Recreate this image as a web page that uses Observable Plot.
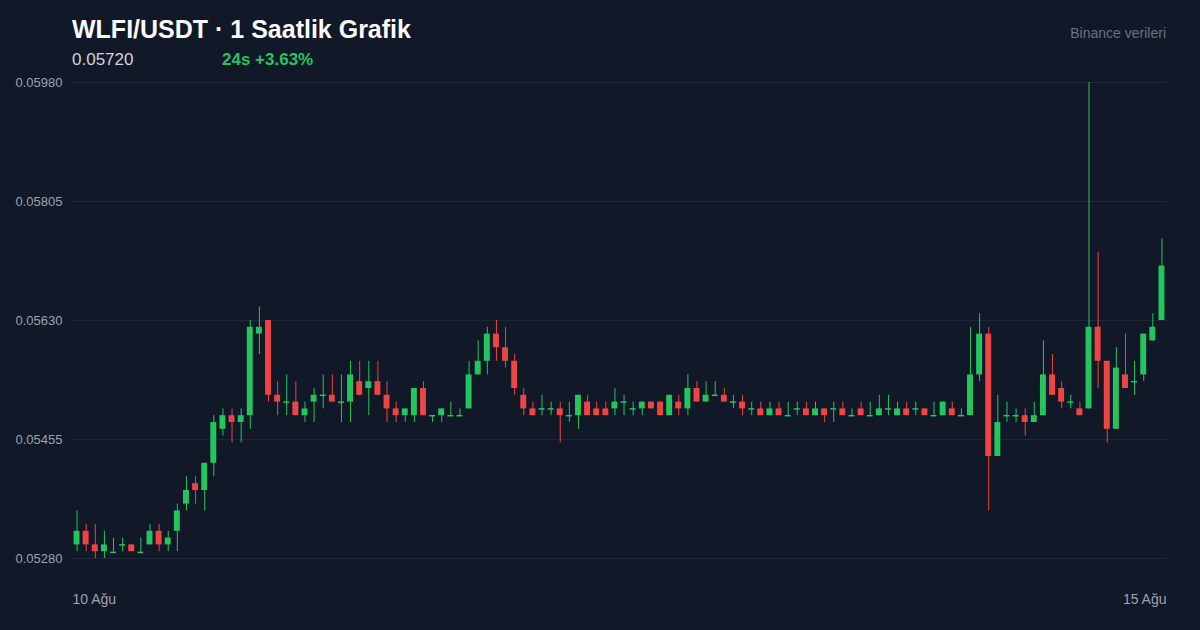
<!DOCTYPE html>
<html>
<head>
<meta charset="utf-8">
<script src="https://cdn.jsdelivr.net/npm/d3@7"></script>
<script src="https://cdn.jsdelivr.net/npm/@observablehq/plot@0.6"></script>
<style>
  html, body { margin: 0; padding: 0; background: #111827; }
  #wrap { position: relative; width: 1200px; height: 630px; overflow: hidden; font-family: "Liberation Sans", Arial, sans-serif; }
  .t { position: absolute; white-space: nowrap; line-height: 1; }
  #title { left: 72px; top: 17px; font-size: 25px; font-weight: 700; color: #f9fafb; }
  #price { left: 72px; top: 51px; font-size: 17px; color: #d1d5db; }
  #change { left: 222px; top: 51px; font-size: 17px; font-weight: 700; color: #22c55e; }
  #source { right: 34px; top: 26px; font-size: 14px; color: #6b7280; }
  #chart { position: absolute; left: 0; top: 0; }
</style>
</head>
<body>
<div id="wrap">
  <div id="chart"></div>
  <div class="t" id="title">WLFI/USDT · 1 Saatlik Grafik</div>
  <div class="t" id="price">0.05720</div>
  <div class="t" id="change">24s +3.63%</div>
  <div class="t" id="source">Binance verileri</div>
</div>
<script>
// Hourly candles, 10 Ağu → 15 Ağu (120 bars)
const open = [
0.0530,0.0532,0.0530,0.0529,0.05289,0.0530,0.0530,0.05289,0.0530,0.0532,
0.0530,0.0532,0.0536,0.0539,0.0538,0.0542,0.0547,0.0549,0.0548,0.0549,
0.0561,0.0563,0.0552,0.0551,0.0551,0.0549,0.0551,0.0552,0.0552,0.0551,
0.0551,0.0554,0.0553,0.0554,0.0552,0.0550,0.0549,0.0549,0.0553,0.0549,
0.0549,0.0549,0.0549,0.0550,0.0555,0.0557,0.0561,0.0559,0.0557,0.0552,
0.0550,0.0550,0.0550,0.0550,0.0549,0.0549,0.0551,0.0550,0.0550,0.0550,
0.0551,0.0550,0.0550,0.0551,0.0551,0.0549,0.0551,0.0550,0.0553,0.0551,
0.0552,0.0552,0.0551,0.0551,0.0550,0.0550,0.0549,0.0550,0.0549,0.0550,
0.0550,0.0549,0.0550,0.0550,0.0550,0.0549,0.0550,0.0549,0.0549,0.0550,
0.0549,0.0550,0.0550,0.0550,0.0549,0.0549,0.0550,0.0549,0.0549,0.0555,
0.0561,0.0543,0.0549,0.0549,0.0549,0.0548,0.0549,0.0555,0.0553,0.0551,
0.0550,0.0550,0.0562,0.0557,0.0547,0.0555,0.0554,0.0555,0.0560,0.0563
];
const high = [
0.0535,0.0533,0.0533,0.0532,0.0531,0.0531,0.0530,0.0531,0.0533,0.0533,
0.0532,0.0536,0.0540,0.0540,0.0542,0.0549,0.0550,0.0550,0.0550,0.0563,
0.0565,0.0563,0.0554,0.0555,0.0554,0.0551,0.0553,0.0555,0.0555,0.0555,
0.0557,0.0557,0.0557,0.0557,0.0554,0.0551,0.0550,0.0553,0.0554,0.0549,
0.0550,0.0551,0.0550,0.0557,0.0560,0.0562,0.0563,0.0562,0.0558,0.0553,
0.0551,0.0552,0.0551,0.0551,0.0551,0.0552,0.0552,0.0551,0.0551,0.0553,
0.0552,0.0551,0.0551,0.0551,0.0551,0.0552,0.0552,0.0555,0.0554,0.0554,
0.0554,0.0553,0.0552,0.0552,0.0551,0.0551,0.0551,0.0551,0.0551,0.0551,
0.0551,0.0551,0.0550,0.0551,0.0551,0.0550,0.0551,0.0551,0.0552,0.0552,
0.0551,0.0551,0.0551,0.0550,0.0551,0.0551,0.0551,0.0550,0.0562,0.0564,
0.0562,0.0552,0.0551,0.0550,0.0550,0.0551,0.0560,0.0558,0.0554,0.0552,
0.0551,0.0598,0.0573,0.0557,0.0559,0.0561,0.0557,0.0561,0.0564,0.0575
];
const low = [
0.0529,0.0529,0.0528,0.0528,0.05289,0.0529,0.0529,0.05289,0.0530,0.0529,
0.0529,0.0529,0.0535,0.0536,0.0535,0.0540,0.0546,0.0545,0.0545,0.0547,
0.0558,0.0551,0.0549,0.0549,0.0549,0.0548,0.0548,0.0550,0.0551,0.0548,
0.0548,0.0552,0.0549,0.0552,0.0548,0.0548,0.0548,0.0548,0.0549,0.0548,
0.0548,0.0549,0.0549,0.0550,0.0555,0.0555,0.0557,0.0556,0.0552,0.0549,
0.0549,0.0549,0.0549,0.0545,0.0548,0.0547,0.0549,0.0549,0.0549,0.0549,
0.0549,0.0549,0.0549,0.0550,0.0549,0.0549,0.0549,0.0549,0.0551,0.0551,
0.0552,0.0551,0.0550,0.0549,0.0549,0.0549,0.0549,0.0549,0.0549,0.0549,
0.0549,0.0549,0.0548,0.0548,0.0549,0.0549,0.0549,0.0549,0.0549,0.0549,
0.0549,0.0549,0.0549,0.0549,0.0549,0.0549,0.0549,0.0549,0.0549,0.0554,
0.0535,0.0543,0.0548,0.0548,0.0546,0.0548,0.0549,0.0552,0.0550,0.0550,
0.0549,0.0550,0.0553,0.0545,0.0547,0.0553,0.0552,0.0554,0.0560,0.0563
];
const close = [
0.0532,0.0530,0.0529,0.0530,0.05289,0.0530,0.0529,0.05289,0.0532,0.0530,
0.0531,0.0535,0.0538,0.0538,0.0542,0.0548,0.0549,0.0548,0.0549,0.0562,
0.0562,0.0552,0.0551,0.0551,0.0549,0.0550,0.0552,0.0552,0.0551,0.0551,
0.0555,0.0552,0.0554,0.0552,0.0550,0.0549,0.0550,0.0553,0.0549,0.0549,
0.0550,0.0549,0.0549,0.0555,0.0557,0.0561,0.0559,0.0557,0.0553,0.0550,
0.0549,0.0550,0.0550,0.0549,0.0549,0.0552,0.0549,0.0549,0.0549,0.0551,
0.0551,0.0550,0.0551,0.0550,0.0549,0.0552,0.0550,0.0553,0.0551,0.0552,
0.0552,0.0551,0.0551,0.0550,0.0550,0.0549,0.0550,0.0549,0.0549,0.0550,
0.0549,0.0550,0.0549,0.0550,0.0549,0.0549,0.0549,0.0549,0.0550,0.0550,
0.0550,0.0549,0.0550,0.0549,0.0549,0.0551,0.0549,0.0549,0.0555,0.0561,
0.0543,0.0548,0.0549,0.0549,0.0548,0.0549,0.0555,0.0552,0.0551,0.0551,
0.0549,0.0562,0.0557,0.0547,0.0556,0.0553,0.0554,0.0561,0.0562,0.0571
];
const yTicks = [0.0528, 0.05455, 0.0563, 0.05805, 0.0598];
const xTickLabels = ["10 Ağu", "15 Ağu"];

const GREEN = "#22c55e", RED = "#ef4444";
const candles = open.map((o, i) => ({i, open: o, high: high[i], low: low[i], close: close[i]}));
const up = d => d.close >= d.open;
const down = d => d.close < d.open;
const doji = d => Math.abs(d.close - d.open) < 1e-9;
const n = candles.length;
const half = (1200 - 72 - 34) / n / 2;

const chart = Plot.plot({
  width: 1200,
  height: 630,
  marginTop: 82,
  marginBottom: 72,
  marginLeft: 72,
  marginRight: 34,
  style: {background: "transparent", fontFamily: "'Liberation Sans', Arial, sans-serif"},
  x: {type: "band", domain: d3.range(n), paddingInner: 0.35, paddingOuter: 0.175, round: false},
  y: {domain: [0.0528, 0.0598]},
  marks: [
    Plot.gridY(yTicks, {stroke: "#1f2937", strokeOpacity: 1, strokeWidth: 1}),
    Plot.axisY(yTicks, {tickSize: 0, tickPadding: 10, tickFormat: d3.format(".5f"), color: "#9ca3af", fontSize: 13, label: null}),
    Plot.axisX([0], {tickSize: 0, tickPadding: 36, tickFormat: () => xTickLabels[0], textAnchor: "start", dx: -half, color: "#9ca3af", fontSize: 14, label: null}),
    Plot.axisX([n - 1], {tickSize: 0, tickPadding: 36, tickFormat: () => xTickLabels[1], textAnchor: "end", dx: half, color: "#9ca3af", fontSize: 14, label: null}),
    Plot.ruleX(candles, {filter: up, x: "i", y1: "low", y2: "high", stroke: GREEN, strokeWidth: 1}),
    Plot.ruleX(candles, {filter: down, x: "i", y1: "low", y2: "high", stroke: RED, strokeWidth: 1}),
    Plot.barY(candles, {filter: d => up(d) && !doji(d), x: "i", y1: "open", y2: "close", fill: GREEN}),
    Plot.barY(candles, {filter: down, x: "i", y1: "open", y2: "close", fill: RED}),
    Plot.tickY(candles, {filter: doji, x: "i", y: "close", stroke: GREEN, strokeWidth: 1.5})
  ]
});
document.getElementById("chart").appendChild(chart);
</script>
</body>
</html>
